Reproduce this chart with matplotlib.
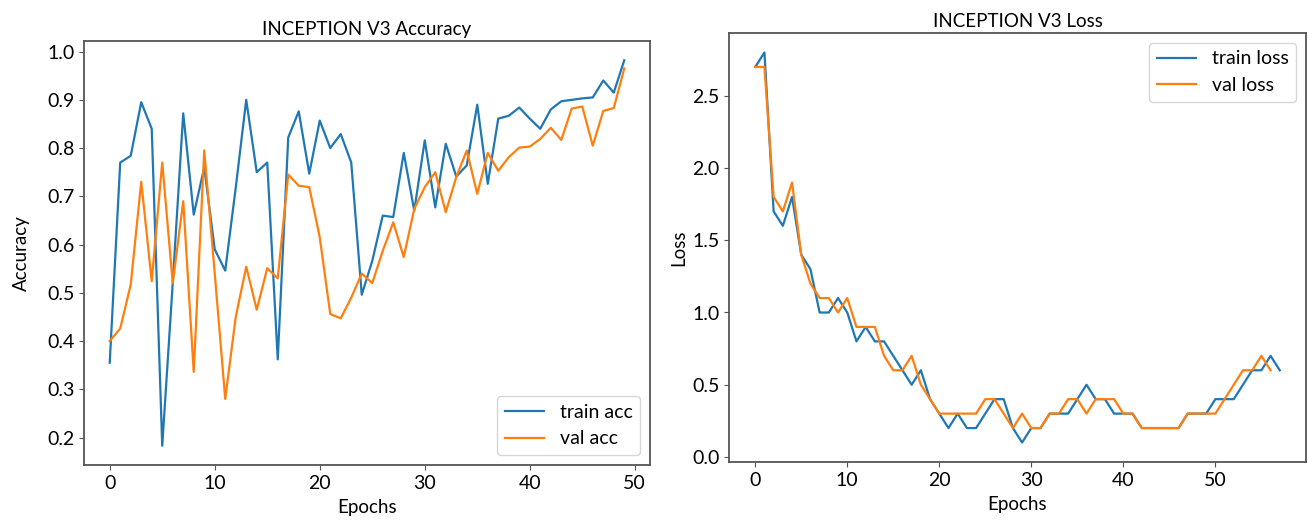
import matplotlib.pyplot as plt

# -----------------------------------------------------------------------------
# Data
# -----------------------------------------------------------------------------

TRAIN_ACC = [
    0.355, 0.77, 0.784, 0.895, 0.84, 0.183, 0.52, 0.872, 0.662, 0.76,
    0.59, 0.546, 0.718, 0.90, 0.75, 0.77, 0.362, 0.822, 0.876, 0.747,
    0.857, 0.80, 0.829, 0.77, 0.496, 0.566, 0.66, 0.657, 0.79, 0.67,
    0.816, 0.677, 0.809, 0.741, 0.764, 0.89, 0.726, 0.861, 0.867, 0.884,
    0.861, 0.84, 0.88, 0.897, 0.90, 0.903, 0.905, 0.94, 0.915, 0.982,
]
VAL_ACC = [
    0.40, 0.426, 0.517, 0.73, 0.524, 0.77, 0.52, 0.69, 0.336, 0.795,
    0.54, 0.28, 0.45, 0.554, 0.465, 0.551, 0.53, 0.745, 0.722, 0.719,
    0.615, 0.456, 0.447, 0.49, 0.54, 0.52, 0.587, 0.646, 0.574, 0.674,
    0.719, 0.75, 0.667, 0.74, 0.795, 0.705, 0.79, 0.753, 0.781, 0.801,
    0.803, 0.819, 0.842, 0.817, 0.882, 0.886, 0.805, 0.877, 0.883, 0.965,
]

TRAIN_LOSS = [
    2.7, 2.8, 1.7, 1.6, 1.8, 1.4, 1.3, 1.0, 1.0, 1.1,
    1.0, 0.8, 0.9, 0.8, 0.8, 0.7, 0.6, 0.5, 0.6, 0.4,
    0.3, 0.2, 0.3, 0.2, 0.2, 0.3, 0.4, 0.4, 0.2, 0.1,
    0.2, 0.2, 0.3, 0.3, 0.3, 0.4, 0.5, 0.4, 0.4, 0.3,
    0.3, 0.3, 0.2, 0.2, 0.2, 0.2, 0.2, 0.3, 0.3, 0.3,
    0.4, 0.4, 0.4, 0.5, 0.6, 0.6, 0.7, 0.6,
]
VAL_LOSS = [
    2.7, 2.7, 1.8, 1.7, 1.9, 1.4, 1.2, 1.1, 1.1, 1.0,
    1.1, 0.9, 0.9, 0.9, 0.7, 0.6, 0.6, 0.7, 0.5, 0.4,
    0.3, 0.3, 0.3, 0.3, 0.3, 0.4, 0.4, 0.3, 0.2, 0.3,
    0.2, 0.2, 0.3, 0.3, 0.4, 0.4, 0.3, 0.4, 0.4, 0.4,
    0.3, 0.3, 0.2, 0.2, 0.2, 0.2, 0.2, 0.3, 0.3, 0.3,
    0.3, 0.4, 0.5, 0.6, 0.6, 0.7, 0.6,
]

# -----------------------------------------------------------------------------
# Style
# -----------------------------------------------------------------------------

plt.rcParams["font.family"] = ["Lato", "DejaVu Sans"]
LABEL_SIZE = 13.5
TICK_SIZE = 14
BLUE = "#1f77b4"
ORANGE = "#ff7f0e"
FRAME = "#555555"


def style_axes(ax, title, ylabel, ylabelpad):
    ax.set_title(title, fontsize=LABEL_SIZE, pad=4)
    ax.set_xlabel("Epochs", fontsize=LABEL_SIZE, labelpad=5)
    ax.set_ylabel(ylabel, fontsize=LABEL_SIZE, labelpad=ylabelpad)
    ax.tick_params(axis="both", labelsize=TICK_SIZE, color=FRAME)
    for spine in ax.spines.values():
        spine.set_color(FRAME)
        spine.set_linewidth(1.3)


fig = plt.figure(figsize=(13.08, 5.2), dpi=100)

# Accuracy
ax1 = fig.add_axes([84 / 1308, 1 - 465 / 520, 566 / 1308, 424 / 520])
ax1.plot(range(len(TRAIN_ACC)), TRAIN_ACC, color=BLUE, lw=1.6, label="train acc")
ax1.plot(range(len(VAL_ACC)), VAL_ACC, color=ORANGE, lw=1.6, label="val acc")
ax1.set_xticks([0, 10, 20, 30, 40, 50])
ax1.set_yticks([0.2, 0.3, 0.4, 0.5, 0.6, 0.7, 0.8, 0.9, 1.0])
style_axes(ax1, "INCEPTION V3 Accuracy", "Accuracy", 12)
ax1.legend(loc="lower right", fontsize=TICK_SIZE, handlelength=2.0)

# Loss
ax2 = fig.add_axes([729 / 1308, 1 - 462 / 520, 577 / 1308, 429 / 520])
ax2.plot(range(len(TRAIN_LOSS)), TRAIN_LOSS, color=BLUE, lw=1.6, label="train loss")
ax2.plot(range(len(VAL_LOSS)), VAL_LOSS, color=ORANGE, lw=1.6, label="val loss")
ax2.set_xticks([0, 10, 20, 30, 40, 50])
ax2.set_yticks([0.0, 0.5, 1.0, 1.5, 2.0, 2.5])
style_axes(ax2, "INCEPTION V3 Loss", "Loss", 3)
ax2.legend(loc="upper right", fontsize=TICK_SIZE, handlelength=2.0)

fig.savefig("out.png", dpi=100)
